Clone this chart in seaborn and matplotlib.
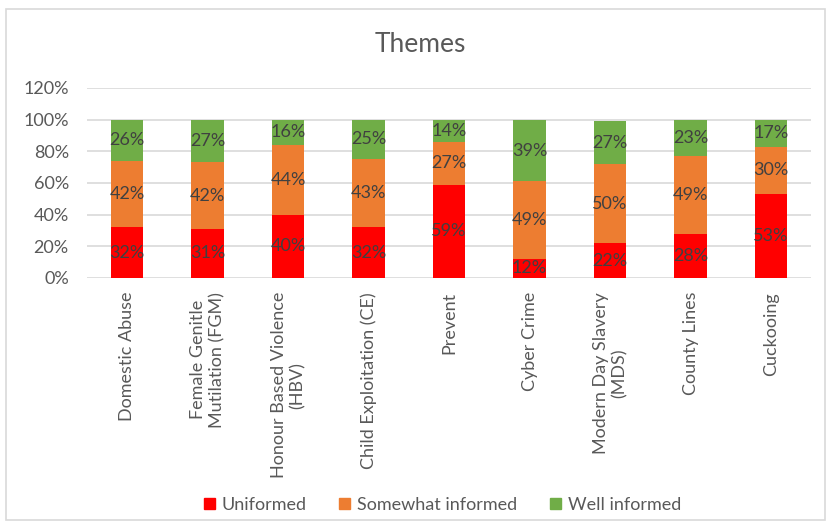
import matplotlib
matplotlib.use("Agg")
import matplotlib.pyplot as plt
import matplotlib.patches as mpatches
import numpy as np
import pandas as pd
import seaborn as sns

themes = ["Domestic Abuse", "Female Genitle\nMutilation (FGM)", "Honour Based Violence\n(HBV)",
          "Child Exploitation (CE)", "Prevent", "Cyber Crime", "Modern Day Slavery\n(MDS)",
          "County Lines", "Cuckooing"]
uninformed = [32, 31, 40, 32, 59, 12, 22, 28, 53]
somewhat = [42, 42, 44, 43, 27, 49, 50, 49, 30]
well = [26, 27, 16, 25, 14, 39, 27, 23, 17]

series = ["Uniformed", "Somewhat informed", "Well informed"]
colors = ["#FF0000", "#ED7D31", "#70AD47"]

sns.set_theme(style="white")
plt.rcParams["font.family"] = ["Lato", "DejaVu Sans"]

df = pd.DataFrame({"theme": themes, "u": uninformed, "s": somewhat, "w": well})
df["c1"] = df["u"]
df["c2"] = df["u"] + df["s"]
df["c3"] = df["c2"] + df["w"]

fig = plt.figure(figsize=(8.27, 5.26), dpi=100)
ax = fig.add_axes([0.105, 0.4715, 0.876, 0.3613])

for col, c in zip(["c3", "c2", "c1"], colors[::-1]):
    sns.barplot(data=df, x="theme", y=col, color=c, width=0.4, saturation=1,
                ax=ax, zorder=3, edgecolor="none")

# segment labels
for i, row in df.iterrows():
    for lo, val in [(0, row["u"]), (row["c1"], row["s"]), (row["c2"], row["w"])]:
        ax.text(i, lo + val / 2, f"{val}%", ha="center", va="center",
                fontsize=13, color="#404040", zorder=4)

ax.set_ylim(0, 120)
ax.set_yticks(range(0, 121, 20))
ax.set_yticklabels([f"{v}%" for v in range(0, 121, 20)], fontsize=13, color="#595959")
ax.set_xlim(-0.5, len(themes) - 0.5)
ax.set_xticks(range(len(themes)))
ax.set_xticklabels(themes, rotation=90, ha="center", va="top", multialignment="center",
                   fontsize=13, color="#595959")
ax.set_xlabel("")
ax.set_ylabel("")
ax.grid(axis="y", color="#D9D9D9", linewidth=1.2, zorder=0)
ax.tick_params(axis="y", length=0, pad=13)
ax.tick_params(axis="x", length=0, pad=10)
for sp in ax.spines.values():
    sp.set_visible(False)

fig.text(0.508, 0.915, "Themes", ha="center", va="center", fontsize=19, color="#595959")

handles = [mpatches.Patch(color=c, label=s) for s, c in zip(series, colors)]
fig.legend(handles=handles, loc="center", bbox_to_anchor=(0.535, 0.04), ncol=3,
           frameon=False, fontsize=13, handlelength=0.6, handleheight=0.6,
           columnspacing=1.8, handletextpad=0.4, labelcolor="#595959")

fig.patches.append(mpatches.Rectangle((0.007, 0.012), 0.99, 0.97, transform=fig.transFigure,
                                      fill=False, edgecolor="#D9D9D9", linewidth=1.2))

fig.savefig("out.png", dpi=100)
